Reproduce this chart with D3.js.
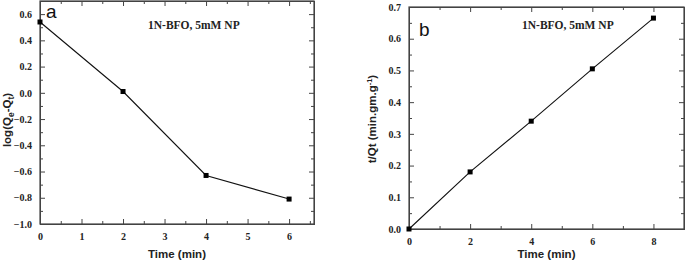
<!DOCTYPE html>
<html>
<head>
<meta charset="utf-8">
<script src="https://cdn.jsdelivr.net/npm/d3@7"></script>
<style>
  body { margin: 0; background: #fff; }
  .tick text { font-family: "Liberation Serif", "Times New Roman", serif; font-weight: bold; font-size: 10px; fill: #222; }
  .axis path, .axis line { stroke: #444; }
</style>
</head>
<body>
<div id="chart-area"></div>
<script>
// panel a: pseudo first order
var timeA = [0, 2, 4, 6];
var logQ = [0.54, 0.01, -0.63, -0.81];
// panel b: pseudo second order
var timeB = [0, 2, 4, 6, 8];
var tQt = [0, 0.18, 0.34, 0.505, 0.665];
// tick values
var xTicksA = [0, 1, 2, 3, 4, 5, 6];
var xTicksB = [0, 2, 4, 6, 8];

var svg = d3.select("#chart-area")
    .append("svg")
        .attr("width", 685)
        .attr("height", 266);

function panel(opt) {
    var g = svg.append("g");
    var x = d3.scaleLinear().domain(opt.xDomain).range([opt.left, opt.right]);
    var y = d3.scaleLinear().domain(opt.yDomain).range([opt.bottom, opt.top]);

    // minor ticks first
    g.append("g").attr("class", "axis")
        .attr("transform", "translate(0," + opt.bottom + ")")
        .call(d3.axisBottom(x).tickValues(opt.xMinor).tickSize(-3).tickFormat(""));
    g.append("g").attr("class", "axis")
        .attr("transform", "translate(0," + opt.top + ")")
        .call(d3.axisTop(x).tickValues(opt.xMinor).tickSize(-3).tickFormat(""));
    g.append("g").attr("class", "axis")
        .attr("transform", "translate(" + opt.left + ",0)")
        .call(d3.axisLeft(y).tickValues(opt.yMinor).tickSize(-3).tickFormat(""));
    g.append("g").attr("class", "axis")
        .attr("transform", "translate(" + opt.right + ",0)")
        .call(d3.axisRight(y).tickValues(opt.yMinor).tickSize(-3).tickFormat(""));

    // major ticks
    g.append("g").attr("class", "axis")
        .attr("transform", "translate(0," + opt.bottom + ")")
        .call(d3.axisBottom(x).tickValues(opt.xTicks).tickSize(-5).tickPadding(9).tickFormat(d3.format("d")));
    g.append("g").attr("class", "axis")
        .attr("transform", "translate(0," + opt.top + ")")
        .call(d3.axisTop(x).tickValues(opt.xTicks).tickSize(-5).tickFormat(""));
    g.append("g").attr("class", "axis")
        .attr("transform", "translate(" + opt.left + ",0)")
        .call(d3.axisLeft(y).tickValues(opt.yTicks).tickSize(-5).tickPadding(8).tickFormat(d3.format(".1f")));
    g.append("g").attr("class", "axis")
        .attr("transform", "translate(" + opt.right + ",0)")
        .call(d3.axisRight(y).tickValues(opt.yTicks).tickSize(-5).tickFormat(""));

    // frame
    g.append("rect")
        .attr("x", opt.left).attr("y", opt.top)
        .attr("width", opt.right - opt.left).attr("height", opt.bottom - opt.top)
        .attr("fill", "none").attr("stroke", "#444").attr("stroke-width", 1.2);

    var pts = opt.xs.map(function(d, i) { return [d, opt.ys[i]]; });
    g.append("path")
        .datum(pts)
        .attr("fill", "none")
        .attr("stroke", "#111")
        .attr("stroke-width", 1.1)
        .attr("d", d3.line().x(function(d) { return x(d[0]); }).y(function(d) { return y(d[1]); }));
    g.selectAll("rect.pt")
        .data(pts)
        .enter()
        .append("rect")
            .attr("class", "pt")
            .attr("x", function(d) { return x(d[0]) - 2.5; })
            .attr("y", function(d) { return y(d[1]) - 2.5; })
            .attr("width", 5).attr("height", 5)
            .attr("fill", "#000");

    // panel letter
    g.append("text")
        .attr("x", opt.left + opt.letterDx).attr("y", opt.top + opt.letterDy)
        .attr("font-family", "Liberation Sans, Arial, sans-serif")
        .attr("font-size", 19)
        .attr("fill", "#111")
        .text(opt.letter);

    // sample label
    g.append("text")
        .attr("x", opt.labelX).attr("y", 29)
        .attr("font-family", "Liberation Serif, Times New Roman, serif")
        .attr("font-weight", "bold")
        .attr("font-size", 11.5)
        .attr("fill", "#222")
        .text("1N-BFO, 5mM NP");

    // x title
    g.append("text")
        .attr("x", (opt.left + opt.right) / 2).attr("y", 258)
        .attr("text-anchor", "middle")
        .attr("font-family", "Liberation Sans, Arial, sans-serif")
        .attr("font-weight", "bold")
        .attr("font-size", 11.5)
        .attr("fill", "#222")
        .text("Time (min)");

    return g;
}

var ga = panel({
    left: 40, right: 314, top: 1, bottom: 224,
    xDomain: [0, 6.6], yDomain: [-1.0, 0.7],
    xTicks: xTicksA, xMinor: [0.5, 1.5, 2.5, 3.5, 4.5, 5.5, 6.5],
    yTicks: d3.range(-1.0, 0.61, 0.2).map(function(d) { return +d.toFixed(1); }),
    yMinor: d3.range(-0.9, 0.71, 0.2).map(function(d) { return +d.toFixed(1); }),
    xs: timeA, ys: logQ,
    letter: "a", letterDx: 6, letterDy: 17,
    labelX: 148
});

var gb = panel({
    left: 409, right: 684, top: 7, bottom: 229,
    xDomain: [0, 9], yDomain: [0, 0.7],
    xTicks: xTicksB, xMinor: [1, 3, 5, 7],
    yTicks: d3.range(0, 0.71, 0.1).map(function(d) { return +d.toFixed(1); }),
    yMinor: d3.range(0.05, 0.7, 0.1).map(function(d) { return +d.toFixed(2); }),
    xs: timeB, ys: tQt,
    letter: "b", letterDx: 10, letterDy: 29,
    labelX: 522
});

// y titles
var ya = svg.append("text")
    .attr("transform", "translate(11,120) rotate(-90)")
    .attr("text-anchor", "middle")
    .attr("font-family", "Liberation Sans, Arial, sans-serif")
    .attr("font-weight", "bold")
    .attr("font-size", 11.5)
    .attr("fill", "#222");
ya.append("tspan").text("log(Q");
ya.append("tspan").attr("font-size", 8.5).attr("dy", 3).text("e");
ya.append("tspan").attr("dy", -3).text("-Q");
ya.append("tspan").attr("font-size", 8.5).attr("dy", 3).text("t");
ya.append("tspan").attr("dy", -3).text(")");

var yb = svg.append("text")
    .attr("transform", "translate(376,119) rotate(-90)")
    .attr("text-anchor", "middle")
    .attr("font-family", "Liberation Sans, Arial, sans-serif")
    .attr("font-weight", "bold")
    .attr("font-size", 11.5)
    .attr("fill", "#222");
yb.append("tspan").text("t/Qt (min.gm.g");
yb.append("tspan").attr("font-size", 7.5).attr("dy", -4).text("-1");
yb.append("tspan").attr("dy", 4).text(")");
</script>
</body>
</html>
